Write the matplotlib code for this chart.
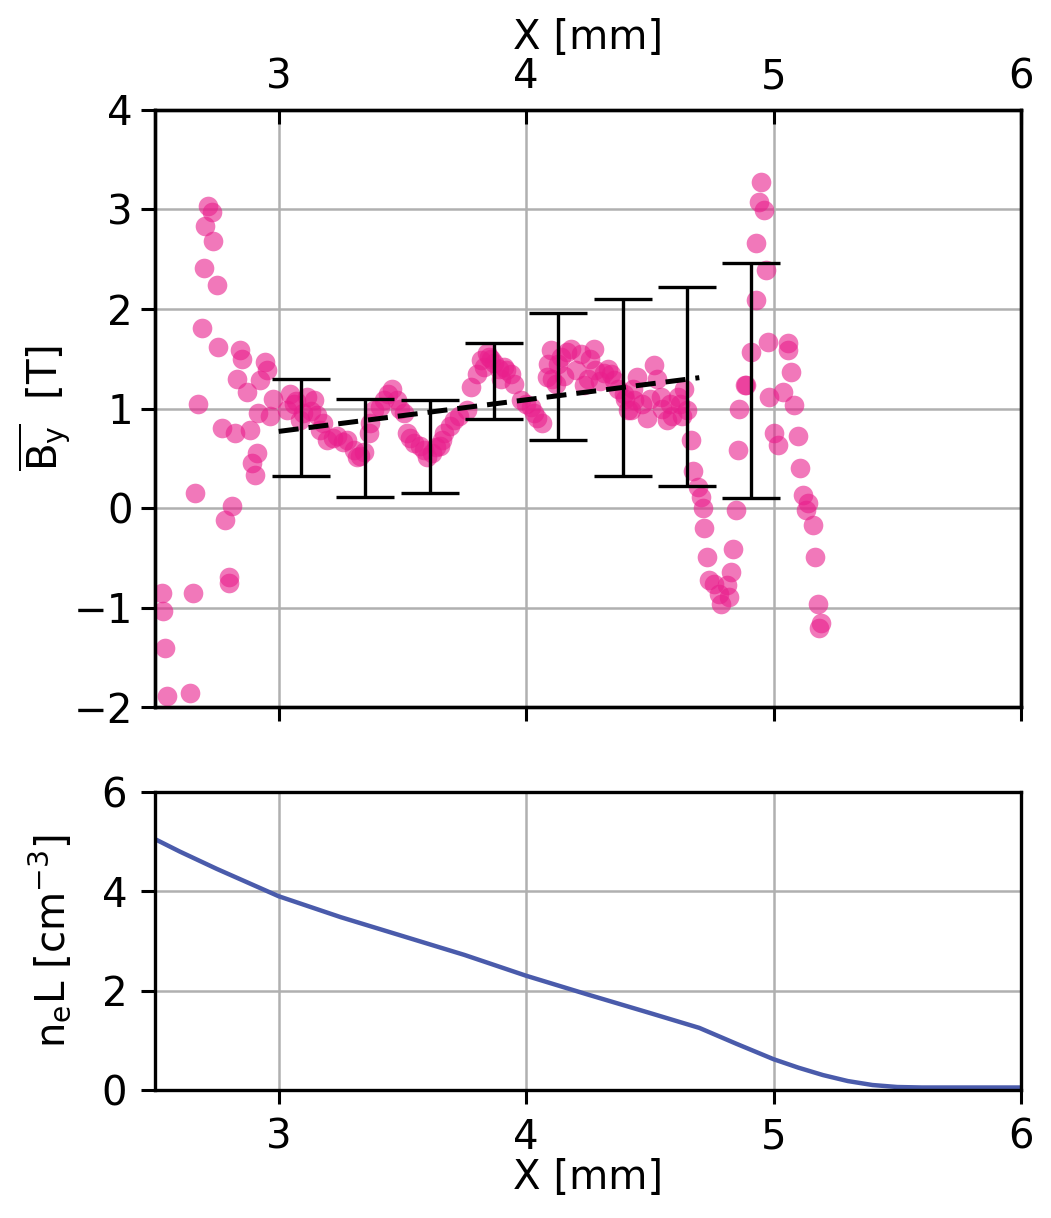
import numpy as np
import matplotlib
matplotlib.use('Agg')
import matplotlib.pyplot as plt

plt.rcParams['font.family'] = ['DejaVu Sans']
plt.rcParams['mathtext.default'] = 'regular'
plt.rcParams['font.size'] = 29

# B_y samples along X [mm]
bx = [2.527, 2.534, 2.54, 2.547, 2.64, 2.655, 2.662, 2.675, 2.689, 2.696,
      2.70, 2.716, 2.73, 2.736, 2.75, 2.756, 2.77, 2.783, 2.797, 2.80,
      2.81, 2.824, 2.83, 2.844, 2.851, 2.871, 2.885, 2.89, 2.905, 2.912,
      2.918, 2.925, 2.945, 2.952, 2.966, 2.975,
      3.033, 3.047, 3.06, 3.087, 3.114, 3.13, 3.141, 3.155, 3.168, 3.195,
      3.22, 3.236, 3.26, 3.276, 3.303, 3.317, 3.343, 3.364, 3.384, 3.41,
      3.424, 3.458, 3.478, 3.505, 3.519, 3.53, 3.546, 3.57, 3.587, 3.60,
      3.634, 3.661, 3.67, 3.694, 3.728, 3.762, 3.777, 3.80, 3.816, 3.843,
      3.85, 3.87, 3.89, 3.91, 3.92, 3.937, 3.95, 3.978, 4.018, 4.03,
      4.045, 4.066, 4.086, 4.10, 4.106, 4.13, 4.153, 4.167, 4.18, 4.20,
      4.234, 4.25, 4.275, 4.28, 4.30, 4.315, 4.342, 4.356, 4.37, 4.396,
      4.41, 4.423, 4.437, 4.45, 4.47, 4.49, 4.517, 4.545, 4.55, 4.571,
      4.59, 4.612, 4.62, 4.639, 4.652, 4.666,
      3.07, 3.10, 3.18, 3.33, 3.37, 3.44, 3.49, 3.62, 3.65, 3.71,
      3.83, 3.86, 3.90, 4.00, 4.09, 4.12, 4.14, 4.22, 4.26, 4.33,
      4.40, 4.43, 4.50, 4.53, 4.58, 4.63,
      4.673, 4.693, 4.706, 4.713, 4.72, 4.733, 4.74, 4.76, 4.78, 4.787,
      4.81, 4.82, 4.83, 4.835, 4.848, 4.855, 4.862, 4.885, 4.89, 4.909,
      4.93, 4.93, 4.943, 4.949, 4.963, 4.97, 4.976, 4.983, 5.003, 5.017,
      5.04, 5.057, 5.06, 5.07, 5.084, 5.098, 5.105, 5.118, 5.13, 5.138,
      5.159, 5.166, 5.179, 5.185, 5.19]
by = [-0.85, -1.03, -1.41, -1.89, -1.86, -0.85, 0.15, 1.05, 1.81, 2.41,
      2.83, 3.04, 2.97, 2.68, 2.24, 1.62, 0.80, -0.12, -0.69, -0.75,
      0.02, 0.75, 1.30, 1.59, 1.50, 1.17, 0.78, 0.45, 0.33, 0.55,
      0.95, 1.29, 1.47, 1.39, 0.92, 1.10,
      0.985, 1.15, 1.05, 0.88, 1.12, 0.98, 1.085, 0.935, 0.78, 0.68,
      0.70, 0.72, 0.66, 0.68, 0.58, 0.515, 0.565, 0.75, 0.985, 1.02,
      1.085, 1.20, 1.085, 0.95, 0.75, 0.70, 0.65, 0.62, 0.58, 0.515,
      0.615, 0.68, 0.75, 0.82, 0.92, 0.985, 1.22, 1.35, 1.49, 1.555,
      1.52, 1.455, 1.40, 1.42, 1.39, 1.35, 1.25, 1.085, 1.02, 0.95,
      0.90, 0.85, 1.32, 1.59, 1.30, 1.45, 1.33, 1.57, 1.60, 1.39,
      1.24, 1.30, 1.60, 1.39, 1.28, 1.355, 1.35, 1.285, 1.20, 1.15,
      0.985, 0.985, 1.085, 1.32, 1.05, 0.90, 1.44, 1.12, 1.00, 0.88,
      0.92, 1.12, 1.05, 1.20, 0.985, 0.68,
      1.08, 0.95, 0.85, 0.52, 0.85, 1.15, 1.00, 0.55, 0.62, 0.88,
      1.42, 1.50, 1.30, 1.05, 1.45, 1.25, 1.52, 1.55, 1.50, 1.40,
      1.10, 1.20, 1.10, 1.30, 1.05, 0.92,
      0.37, 0.21, 0.11, 0.00, -0.20, -0.49, -0.72, -0.76, -0.86, -0.96,
      -0.77, -0.89, -0.64, -0.41, -0.02, 0.58, 1.00, 1.24, 1.24, 1.57,
      2.09, 2.66, 3.08, 3.28, 2.99, 2.39, 1.67, 1.12, 0.75, 0.63,
      1.17, 1.655, 1.59, 1.37, 1.035, 0.72, 0.40, 0.13, -0.02, 0.05,
      -0.17, -0.49, -0.96, -1.21, -1.16]

# binned means with their spread
err_x = [3.09, 3.35, 3.61, 3.87, 4.13, 4.39, 4.65, 4.91]
err_y = [0.81, 0.60, 0.617, 1.275, 1.32, 1.207, 1.22, 1.28]
err_dy = [0.49, 0.494, 0.47, 0.385, 0.64, 0.89, 1.0, 1.18]

# linear fit through the central region
fit_x = [3.0, 4.7]
fit_y = [0.77, 1.31]

# line-integrated electron density
ne_x = [2.5, 2.6, 2.75, 2.9, 3.0, 3.25, 3.5, 3.75, 4.0, 4.25, 4.5, 4.7,
        4.85, 5.0, 5.1, 5.2, 5.3, 5.4, 5.5, 5.6, 5.75, 6.0]
ne_y = [5.05, 4.8, 4.45, 4.12, 3.9, 3.48, 3.1, 2.72, 2.3, 1.92, 1.55, 1.25,
        0.93, 0.62, 0.45, 0.3, 0.18, 0.1, 0.06, 0.05, 0.05, 0.05]

xticks = [3, 4, 5, 6]

fig = plt.figure(figsize=(10.51, 12.18), dpi=100)
ax1 = fig.add_axes([0.1475, 0.4195, 0.8239, 0.4902])
ax2 = fig.add_axes([0.1475, 0.1051, 0.8239, 0.2447])

grid_kw = dict(color='#b0b0b0', lw=1.8)
tick_kw = dict(length=10, width=2.2, labelsize=29)

ax1.scatter(bx, by, s=200, color='#e91e8c', alpha=0.6, linewidths=0, zorder=3)
ax1.errorbar(err_x, err_y, yerr=err_dy, fmt='none', ecolor='black',
             elinewidth=2.4, capsize=21, capthick=2.4, zorder=4)
ax1.plot(fit_x, fit_y, 'k--', lw=3.6, dashes=(4, 2), zorder=5)
ax1.set_xlim(2.5, 6)
ax1.set_ylim(-2, 4)
ax1.set_xticks(xticks)
ax1.set_yticks(range(-2, 5))
ax1.grid(True, **grid_kw)
ax1.tick_params(axis='x', labelbottom=False, **tick_kw)
ax1.tick_params(axis='y', pad=6, **tick_kw)
ax1.set_ylabel(r'$\overline{B_y}$  [T]', fontsize=29, labelpad=1)

top = ax1.twiny()
top.set_xlim(ax1.get_xlim())
top.set_xticks(xticks)
top.tick_params(axis='x', direction='in', pad=9, **tick_kw)
top.set_xlabel('X [mm]', fontsize=29, labelpad=6)

ax2.plot(ne_x, ne_y, color='#4a5bab', lw=3.2)
ax2.set_xlim(2.5, 6)
ax2.set_ylim(0, 6)
ax2.set_xticks(xticks)
ax2.set_yticks([0, 2, 4, 6])
ax2.grid(True, **grid_kw)
ax2.tick_params(pad=10, **tick_kw)
ax2.set_xlabel('X [mm]', fontsize=29, labelpad=0)
ax2.set_ylabel(r'$n_eL$ [cm$^{-3}$]', fontsize=29, labelpad=20)

for a in (ax1, ax2, top):
    for sp in a.spines.values():
        sp.set_linewidth(2.4)

fig.savefig('out.png', dpi=100)
